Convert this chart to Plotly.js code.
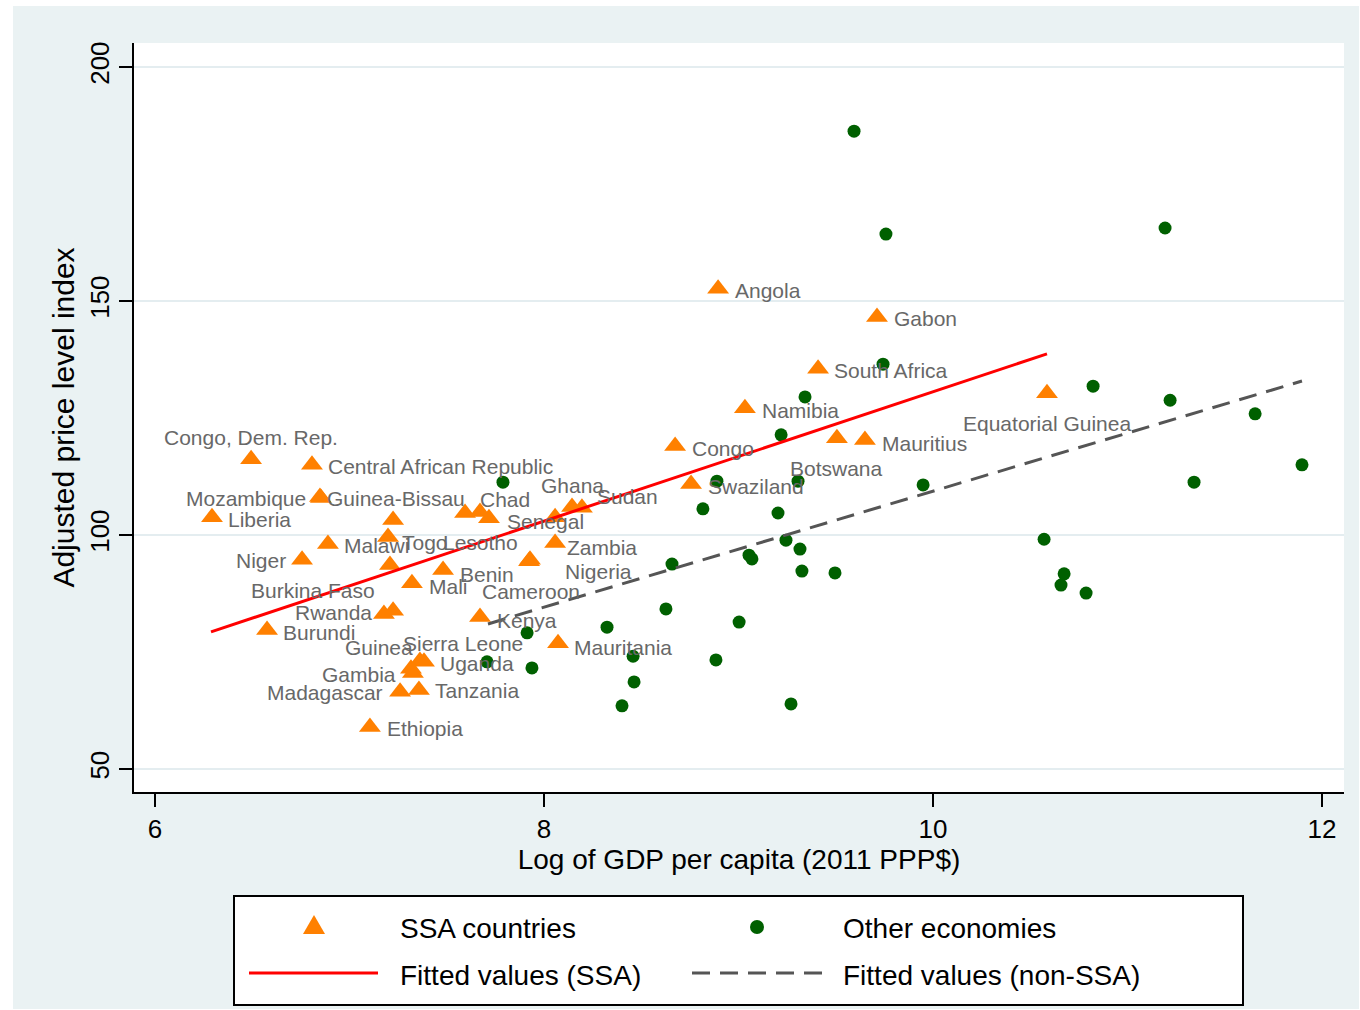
<!DOCTYPE html>
<html><head><meta charset="utf-8">
<script src="https://cdn.plot.ly/plotly-3.0.1.min.js"></script>
<style>
html,body{margin:0;padding:0;background:#ffffff;}
#frame{position:absolute;left:13px;top:6px;width:1346px;height:1003px;}
</style></head>
<body><div id="frame"></div>
<script>
// ---------- data ----------
const ssaNames = ["Congo, Dem. Rep.","Central African Republic","Guinea-Bissau","Mozambique","Liberia","Niger","Malawi","Togo","","Burkina Faso","Mali","Benin","Rwanda","","Burundi","Sierra Leone","Uganda","Guinea","Gambia","Madagascar","Tanzania","Ethiopia","Chad","Lesotho","Senegal","","Ghana","Sudan","Zambia","Nigeria","Cameroon","Kenya","Mauritania","Angola","Gabon","South Africa","Namibia","Congo","Swaziland","Botswana","Mauritius","Equatorial Guinea"];
const ssaX = [6.494,6.807,6.853,6.848,6.293,6.756,6.889,7.198,7.224,7.208,7.321,7.481,7.177,7.224,6.576,7.362,7.383,7.316,7.326,7.260,7.357,7.105,7.594,7.671,7.717,8.057,8.144,8.195,8.057,7.928,7.923,7.671,8.072,8.895,9.712,9.409,9.033,8.674,8.756,9.506,9.650,10.586];
const ssaY = [116.2,115.0,107.9,108.1,103.8,94.7,98.1,99.6,103.2,93.6,89.7,92.5,83.1,83.8,79.7,73.1,72.9,71.4,70.5,66.5,66.9,59.0,104.7,104.9,103.6,103.8,106.0,105.8,98.3,94.7,94.4,82.5,76.9,152.6,146.6,135.5,127.1,119.0,110.9,120.7,120.3,130.3];

const otherX = [9.594,9.758,11.193,9.743,9.342,10.823,11.219,11.656,11.897,11.342,9.219,9.949,9.306,8.889,7.789,8.817,9.203,9.244,9.316,9.054,9.069,8.658,9.326,9.496,8.627,8.324,9.003,7.913,8.458,8.884,7.707,7.938,8.463,8.401,9.270,10.571,10.674,10.658,10.787];
const otherY = [186.3,164.3,165.6,136.5,129.5,131.8,128.8,125.9,115.0,111.3,121.4,110.7,111.5,111.5,111.3,105.6,104.7,98.9,97.0,95.7,94.9,93.8,92.3,91.9,84.2,80.3,81.4,79.1,74.1,73.3,72.9,71.6,68.6,63.5,63.9,99.1,91.7,89.3,87.6];

const ssaFitX = [6.288, 10.586];
const ssaFitY = [79.3, 138.7];
const nonSsaFitX = [7.712, 11.897];
const nonSsaFitY = [81.0, 132.9];

const xTickVals = [6, 8, 10, 12];
const yTickVals = [50, 100, 150, 200];
const xTitle = "Log of GDP per capita (2011 PPP$)";
const yTitle = "Adjusted price level index";
const legendLabels = ["SSA countries", "Other economies", "Fitted values (SSA)", "Fitted values (non-SSA)"];

// ---------- label placement (pixel offsets from marker) ----------
const labelAnchor = ["center","left","left","right","left","right","left","left","left","right","left","left","right","left","left","left","left","right","right","right","left","left","left","center","left","left","center","left","left","left","center","left","left","left","left","left","left","left","left","center","left","center"];
const labelDX = [0,14,4,-12,14,-14,14,12,0,-13,15,15,-10,0,14,-19,14,4,-15,-15,14,15,13,0,16,0,0,13,10,33,2,15,14,15,15,14,15,15,15,0,15,0];
const labelDY = [-22,2,0,1,2,1,2,6,0,26,3,4,-2,0,2,-17,2,-21,1,1,1,2,-14,30,3,0,-21,-11,5,12,30,4,4,2,2,2,2,2,2,30,3,30];

// ---------- styles ----------
const FONT = "Liberation Sans, Arial, sans-serif";
const ORANGE = "#FF8000";
const GREEN = "#006000";
const LABEL_COLOR = "#686868";

const M = {l:121, r:15, t:37, b:217};
const W = 1346, H = 1003;
const PW = W - M.l - M.r, PH = H - M.t - M.b;
// reference-image pixel -> paper coords
const px = x => (x - 13 - M.l) / PW;
const py = y => (H - M.b - (y - 6)) / PH;

const traces = [
  {type:"scatter", mode:"markers", x:ssaX, y:ssaY, text:ssaNames, name:legendLabels[0],
   marker:{symbol:"triangle-up", size:19, color:ORANGE}, hoverinfo:"text+x+y", cliponaxis:false},
  {type:"scatter", mode:"markers", x:otherX, y:otherY, name:legendLabels[1],
   marker:{symbol:"circle", size:13, color:GREEN}, cliponaxis:false},
  {type:"scatter", mode:"lines", x:ssaFitX, y:ssaFitY, name:legendLabels[2],
   line:{color:"#FF0000", width:3}},
  {type:"scatter", mode:"lines", x:nonSsaFitX, y:nonSsaFitY, name:legendLabels[3],
   line:{color:"#555555", width:3, dash:"18px,10px"}}
];

const annotations = [];
ssaNames.forEach((n, i) => {
  if (!n) return;
  annotations.push({x:ssaX[i], y:ssaY[i], xref:"x", yref:"y", text:n, showarrow:false,
    xanchor:labelAnchor[i], yanchor:"middle", xshift:labelDX[i], yshift:-labelDY[i],
    font:{family:FONT, size:21, color:LABEL_COLOR}});
});
// legend texts
const legText = [[398,928,0],[841,928,1],[398,975,2],[841,975,3]];
legText.forEach(([lx, ly, k]) => {
  annotations.push({x:px(lx), y:py(ly), xref:"paper", yref:"paper", text:legendLabels[k],
    showarrow:false, xanchor:"left", yanchor:"middle",
    font:{family:FONT, size:28, color:"#000000"}});
});

const shapes = [
  {type:"rect", xref:"paper", yref:"paper", x0:px(234), x1:px(1243), y0:py(896), y1:py(1005),
   line:{color:"#000000", width:2}, fillcolor:"#ffffff", layer:"above"},
  {type:"path", xref:"paper", yref:"paper", xsizemode:"pixel", ysizemode:"pixel",
   xanchor:px(314), yanchor:py(927), path:"M-11,-7 L11,-7 L0,12 Z",
   fillcolor:ORANGE, line:{width:0}, layer:"above"},
  {type:"circle", xref:"paper", yref:"paper", xsizemode:"pixel", ysizemode:"pixel",
   xanchor:px(757), yanchor:py(927), x0:-7, x1:7, y0:-7, y1:7,
   fillcolor:GREEN, line:{width:0}, layer:"above"},
  {type:"line", xref:"paper", yref:"paper", x0:px(249), x1:px(378), y0:py(973), y1:py(973),
   line:{color:"#FF0000", width:3}, layer:"above"},
  {type:"line", xref:"paper", yref:"paper", x0:px(692), x1:px(822), y0:py(973), y1:py(973),
   line:{color:"#555555", width:3, dash:"18px,10px"}, layer:"above"}
];

const layout = {
  width:W, height:H,
  margin:M,
  paper_bgcolor:"#EAF2F3",
  plot_bgcolor:"#ffffff",
  showlegend:false,
  font:{family:FONT, color:"#000000"},
  xaxis:{range:[5.892, 12.113], tickvals:xTickVals, ticktext:xTickVals.map(String),
    ticks:"outside", ticklen:13, tickwidth:2, tickcolor:"#000000",
    showline:true, linecolor:"#000000", linewidth:2, showgrid:false, zeroline:false,
    tickfont:{family:FONT, size:26, color:"#000000"},
    title:{text:xTitle, font:{family:FONT, size:28, color:"#000000"}, standoff:3}},
  yaxis:{range:[45.09, 205.13], tickvals:yTickVals, ticktext:yTickVals.map(String),
    ticks:"outside", ticklen:13, tickwidth:2, tickcolor:"#000000", tickangle:-90,
    showline:true, linecolor:"#000000", linewidth:2, showgrid:true, gridcolor:"#E4EDF0", gridwidth:2,
    zeroline:false,
    tickfont:{family:FONT, size:26, color:"#000000"},
    title:{text:yTitle, font:{family:FONT, size:30, color:"#000000"}, standoff:1}},
  annotations:annotations,
  shapes:shapes
};

Plotly.newPlot("frame", traces, layout, {displayModeBar:false, responsive:false});
</script>
</body></html>
